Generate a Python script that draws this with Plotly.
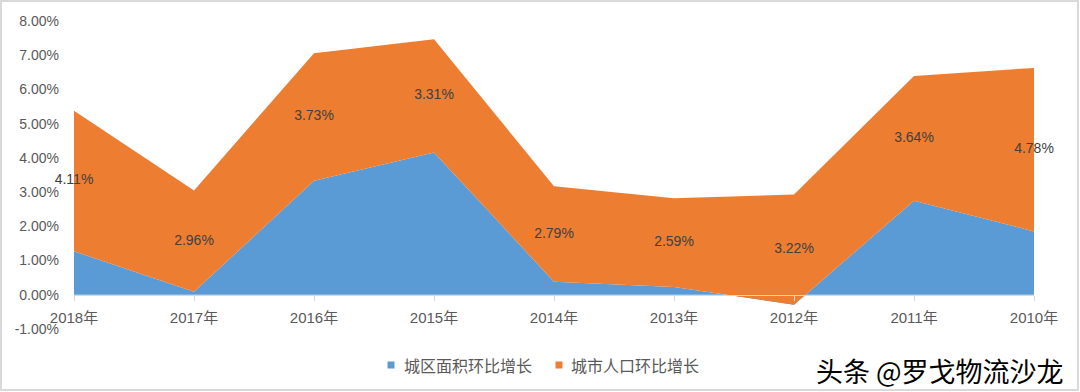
import plotly.graph_objects as go

years = ["2018年", "2017年", "2016年", "2015年", "2014年", "2013年", "2012年", "2011年", "2010年"]
area_growth = [1.27, 0.09, 3.33, 4.16, 0.38, 0.23, -0.29, 2.75, 1.85]
pop_growth = [4.11, 2.96, 3.73, 3.31, 2.79, 2.59, 3.22, 3.64, 4.78]
y_ticks = [-1, 0, 1, 2, 3, 4, 5, 6, 7, 8]
series_names = ["城区面积环比增长", "城市人口环比增长"]

BLUE = "#5B9BD5"
ORANGE = "#ED7D31"
FONT = "Liberation Sans, Noto Sans CJK SC, sans-serif"

fig = go.Figure()
fig.add_trace(go.Scatter(x=years, y=area_growth, stackgroup="s", mode="none",
                         fillcolor=BLUE, name=series_names[0], showlegend=False,
                         hoverinfo="skip"))
fig.add_trace(go.Scatter(x=years, y=pop_growth, stackgroup="s", mode="none",
                         fillcolor=ORANGE, name=series_names[1], showlegend=False,
                         hoverinfo="skip"))
# data labels at middle of the orange band
mid = [a + p / 2 for a, p in zip(area_growth, pop_growth)]
fig.add_trace(go.Scatter(x=years, y=mid, mode="text", cliponaxis=False,
                         text=[f"{p:.2f}%" for p in pop_growth],
                         textfont=dict(family=FONT, size=14, color="#404040"),
                         showlegend=False, hoverinfo="skip"))

fig.update_layout(
    width=1080, height=392,
    margin=dict(l=74, r=46, t=21, b=63, autoexpand=False),
    paper_bgcolor="white", plot_bgcolor="white",
    font=dict(family=FONT, size=14, color="#595959"),
    xaxis=dict(type="category", range=[0, 8], anchor="free", position=1/9,
               showline=True, linecolor="#D9D9D9", linewidth=1,
               ticks="outside", ticklen=5, tickcolor="#D9D9D9",
               showgrid=False, zeroline=False, ticklabelstandoff=4,
               tickfont=dict(size=15, color="#595959")),
    yaxis=dict(range=[-1, 8], tickvals=y_ticks,
               ticktext=[f"{v:.2f}%" for v in y_ticks],
               showgrid=False, zeroline=False, showline=False,
               ticklabelstandoff=14,
               tickfont=dict(size=14, color="#595959")),
    showlegend=False,
)

# manual legend (Excel style small squares)
def px(xp):
    return (xp - 74) / 960

def py(yp):
    return (329 - yp) / 308

for (sq_x, tx_x), nm, col in zip([(391, 402), (559, 569)], series_names, [BLUE, ORANGE]):
    fig.add_shape(type="rect", xref="paper", yref="paper",
                  x0=px(sq_x - 3.5), x1=px(sq_x + 3.5), y0=py(368.5), y1=py(361.5),
                  fillcolor=col, line=dict(width=0))
    fig.add_annotation(text=nm, xref="paper", yref="paper", x=px(tx_x), y=py(365),
                       xanchor="left", yanchor="middle", showarrow=False,
                       font=dict(family="Noto Sans CJK SC", size=16, color="#595959"))

fig.add_annotation(text="头条 @罗戈物流沙龙", xref="paper", yref="paper",
                   x=px(940), y=py(371), xanchor="center", yanchor="middle",
                   showarrow=False,
                   font=dict(family="Noto Sans CJK SC", size=27, color="black"))

# chart border
fig.add_shape(type="rect", xref="paper", yref="paper",
              x0=px(1), x1=px(1078), y0=py(390), y1=py(1),
              line=dict(color="#D9D9D9", width=2), layer="below")

fig.write_html("out.html", config={"displayModeBar": False},
               post_script="document.body.style.margin='0';document.body.style.overflow='hidden';")
